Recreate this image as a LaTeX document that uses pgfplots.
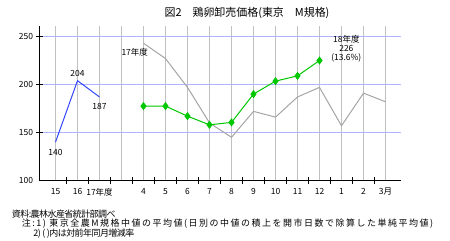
\documentclass[border=0pt]{standalone}
\usepackage{pgfplots}
\pgfplotsset{compat=1.18}
\usepackage{fontspec}
\setmainfont{Noto Sans CJK JP}
\definecolor{gline}{RGB}{0,200,0}
\definecolor{bline}{RGB}{50,70,255}
\definecolor{grayline}{RGB}{165,165,165}
\definecolor{vgrid}{RGB}{192,192,192}
\definecolor{hgrid}{RGB}{175,180,255}
\begin{document}
\begin{tikzpicture}[x=1bp,y=1bp]
\path[use as bounding box] (0,0) rectangle (450,240);
\begin{axis}[
  at={(39.5bp,59.5bp)}, anchor=south west,
  scale only axis, width=361bp, height=154bp,
  xmin=-0.72727, xmax=15.6818, ymin=100, ymax=260.4167,
  clip=false,
  axis x line=bottom, axis y line=left,
  axis line style={-, black, line width=1bp},
  xtick={0,...,15},
  xticklabels={15,16,17年度,,4,5,6,7,8,9,10,11,12,1,2,3月},
  minor xtick={0.5,1.5,...,14.5},
  ytick={100,150,200,250},
  minor ytick={150,200,250},
  xmajorgrids=true, ymajorgrids=true,
  xminorgrids=false, yminorgrids=false,
  x grid style={vgrid, line width=1bp},
  y grid style={hgrid, line width=1bp},
  tick align=center, major tick length=0pt, minor tick length=7bp,
  minor tick style={black, line width=1bp},
  tick label style={font=\fontsize{8.5}{9}\selectfont},
  /pgf/number format/assume math mode=true,
  xticklabel style={yshift=-4bp},
  yticklabel style={xshift=-3bp},
]
\addplot[bline, line width=1bp] coordinates {(0,140)(1,204)(2,187)};
\addplot[grayline, line width=1bp] coordinates {(4,243)(5,227)(6,197)(7,160)(8,145)(9,172)(10,166)(11,187)(12,197)(13,157)(14,191)(15,182)};
\addplot[gline, line width=1bp, mark=diamond*, mark size=3.3pt, mark options={fill=gline, draw=gline}] coordinates {(4,177.5)(5,177.5)(6,167)(7,158)(8,160.5)(9,190)(10,203.5)(11,209)(12,225)};
\begin{scope}[font=\fontsize{8.5}{9}\selectfont]
\node at (axis cs:0,129) {140};
\node at (axis cs:1,211.5) {204};
\node at (axis cs:2,177) {187};
\node at (axis cs:3.6,233.6) {17年度};
\node at (axis cs:13.22,247.5) {18年度};
\node at (axis cs:13.22,237.8) {226};
\node at (axis cs:13.22,227.6) {(13.6\%)};
\end{scope}
\end{axis}
\node[font=\fontsize{11}{12}\selectfont] at (247,227) {図2　鶏卵卸売価格(東京　M規格)};
\begin{scope}[font=\fontsize{9}{10}\selectfont, inner sep=0pt]
\node[anchor=west] at (11.7,26.3) {\addfontfeature{LetterSpace=-6}資料:農林水産省統計部調べ};
\node[anchor=west] at (21.7,16) {\addfontfeature{LetterSpace=17}注:1) 東京全農M規格中値の平均値(日別の中値の積上を開市日数で除算した単純平均値)};
\node[anchor=west] at (33.3,6) {\addfontfeature{LetterSpace=-6}2) ( )内は対前年同月増減率};
\end{scope}
\end{tikzpicture}
\end{document}
